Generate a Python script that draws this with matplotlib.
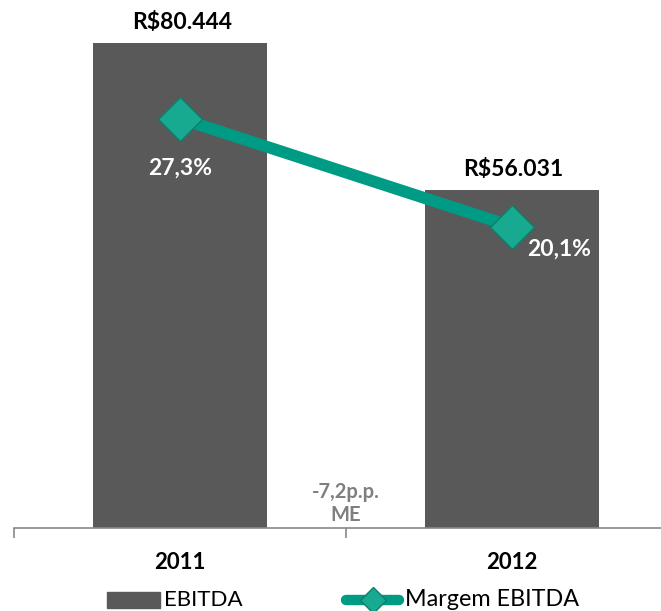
import matplotlib
matplotlib.use("Agg")
import matplotlib.pyplot as plt
from matplotlib.patches import Rectangle
from matplotlib.lines import Line2D

# data
years = ["2011", "2012"]
ebitda = [80444, 56031]
ebitda_labels = ["R$80.444", "R$56.031"]
margem = [27.3, 20.1]
margem_labels = ["27,3%", "20,1%"]
delta_label = "-7,2p.p.\nME"
legend_labels = ["EBITDA", "Margem EBITDA"]

bar_color = "#595959"
line_color = "#009B84"
marker_face = "#17AA91"
marker_edge = "#0B7F6B"
font = ["Lato", "DejaVu Sans"]

W, H = 661, 611
fig = plt.figure(figsize=(W / 100, H / 100), dpi=100)

# axes spans from x=14px to x=678px, bottom at y=528px (from top)
left = 14 / W
width = 664 / W
bottom = (H - 528) / H
ax = fig.add_axes([left, bottom, width, 1 - bottom])
x = [0, 1]
ax.bar(x, ebitda, width=0.525, color=bar_color, zorder=2)
ax.set_xlim(-0.5, 1.5)
ax.set_ylim(0, 87600)

for s in ["top", "right", "left"]:
    ax.spines[s].set_visible(False)
ax.spines["bottom"].set_color("#888888")
ax.spines["bottom"].set_linewidth(1.2)
ax.set_yticks([])
ax.set_xticks([-0.5, 0.5, 1.5])
ax.set_xticklabels([])
ax.tick_params(axis="x", length=7, width=1.2, color="#888888", direction="out")

for xi, v, lab in zip(x, ebitda, ebitda_labels):
    ax.text(xi + 0.005, v + 1700, lab, ha="center", va="bottom", fontsize=16.5,
            fontweight="bold", family=font, color="black")

for xi, yr in zip(x, years):
    ax.text(xi, -5700, yr, ha="center", va="center", fontsize=16,
            fontweight="bold", family=font, color="black")

ax.text(0.5, 450, delta_label, ha="center", va="bottom", fontsize=14.5,
        fontweight="bold", family=font, color="#7F7F7F", linespacing=1.2)

ax2 = ax.twinx()
ax2.set_ylim(0, 35.2)
ax2.axis("off")
ax2.plot(x, margem, color=line_color, linewidth=8.5, solid_capstyle="butt",
         marker="D", markersize=22, markerfacecolor=marker_face,
         markeredgecolor=marker_edge, markeredgewidth=1, zorder=3)

ax2.text(0, margem[0] - 3.3, margem_labels[0], ha="center", va="center",
         fontsize=16.5, fontweight="bold", family=font, color="white")
ax2.text(1.142, margem[1] - 1.5, margem_labels[1], ha="center", va="center",
         fontsize=16.5, fontweight="bold", family=font, color="white")

# legend drawn in figure pixels
def fx(px):
    return px / W

def fy(py):
    return (H - py) / H

leg_y = 600
fig.patches.append(Rectangle((fx(107), fy(608)), fx(53), 16 / H,
                             transform=fig.transFigure, color=bar_color))
fig.text(fx(164), fy(leg_y), legend_labels[0], ha="left", va="center",
         fontsize=16, family=font, color="black")
fig.lines.append(Line2D([fx(346), fx(399)], [fy(leg_y), fy(leg_y)],
                        transform=fig.transFigure, color=line_color,
                        linewidth=7.5, solid_capstyle="round"))
fig.lines.append(Line2D([fx(373)], [fy(leg_y)], transform=fig.transFigure,
                        marker="D", markersize=13, markerfacecolor=marker_face,
                        markeredgecolor=marker_edge, markeredgewidth=1,
                        linestyle="none"))
fig.text(fx(405), fy(leg_y), legend_labels[1], ha="left", va="center",
         fontsize=16.8, family=font, color="black")

fig.savefig("out.png", dpi=100)
